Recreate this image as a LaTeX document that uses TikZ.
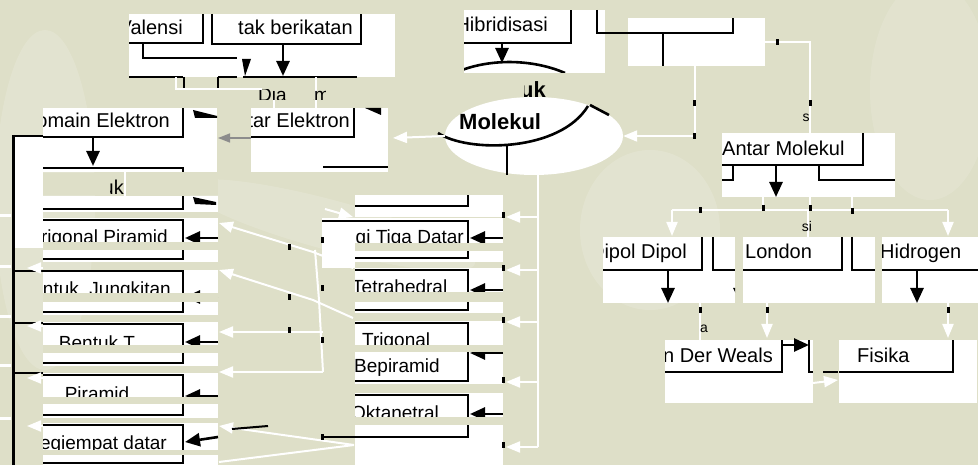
\documentclass[tikz,border=0pt]{standalone}
\usepackage{fontspec}
\setmainfont{Liberation Sans}
\usetikzlibrary{arrows.meta,shapes.geometric}
\definecolor{Khaki}{RGB}{222,223,200}

\begin{document}
\begin{tikzpicture}[x=1pt, y=-1pt,
      every node/.append style={inner sep=0pt, font=\fontsize{20}{22}\selectfont},
      rim/.style={draw=black, line width=2.6pt},
      headed/.style={draw=black, line width=2.6pt, -{Triangle[width=13pt,length=15pt]}},
      ghost/.style={draw=white, line width=2pt, -{Triangle[width=11pt,length=14pt]}},
      wire/.style={draw=white, line width=2pt},
      narrow/.style={font=\fontsize{19}{22}\selectfont}]
    \tikzstyle{slab} = [fill=white]
    \tikzstyle{band} = [fill=Khaki]
    \fill[Khaki] (0,0) rectangle (978,465);
    \useasboundingbox (0,0) rectangle (978,465);
    \fill[white,opacity=.15] (45,200) ellipse [x radius=50pt, y radius=170pt];
    \fill[white,opacity=.15,rotate around={-15:(330,225)}] (330,225) ellipse [x radius=150pt, y radius=25pt];
    \fill[white,opacity=.15] (650,230) ellipse [x radius=70pt, y radius=80pt];
    \fill[white,opacity=.12] (930,90) ellipse [x radius=60pt, y radius=110pt];

    % white boxes
    \fill[slab] (129,14) rectangle (395,77);
    \fill[slab] (43,108) rectangle (217,172);
    \fill[slab] (251,108) rectangle (388,172);
    \fill[slab] (464,10) rectangle (605,73);
    \fill[slab] (628,18) rectangle (765,66);
    \fill[slab] (722,133) rectangle (895,197);
    \fill[slab] (603,237) rectangle (735,303);
    \fill[slab] (743,237) rectangle (875,303);
    \fill[slab] (882,237) rectangle (978,303);
    \fill[slab] (665,340) rectangle (813,403);
    \fill[slab] (839,340) rectangle (977,403);
    \fill[slab] (15,137) rectangle (43,248);
    \foreach \t/\b in {196/212,218/262,270/315,322/366,373/418,423/465}
      \fill[slab] (43,\t) rectangle (218,\b);
    \foreach \t/\b in {195/217,218/262,268/313,321/384,393/465}
      \fill[slab] (355,\t) rectangle (503,\b);
    \fill[slab] (322,218) rectangle (355,268);
    \node (bulat) [ellipse, fill=white, minimum width=178pt, minimum height=78pt] at (534,136) {};

    % texts
    \begin{scope}
      \clip (129,14) rectangle (395,77);
      \node (valensi) [anchor=base east] at (183,35) {Valensi};
      \node (takber) [anchor=base west] at (238,35) {tak berikatan};
    \end{scope}
    \begin{scope}
      \clip (43,108) rectangle (217,172);
      \node (domain) [anchor=base east] at (170,128) {Domain Elektron};
    \end{scope}
    \begin{scope}
      \clip (251,108) rectangle (388,172);
      \node (antarel) [anchor=base east] at (350,128) {Antar Elektron};
    \end{scope}
    \begin{scope}
      \clip (464,10) rectangle (605,73);
      \node (hibrid) [anchor=base east] at (548,32) {Hibridisasi};
    \end{scope}
    \node (molekul) [anchor=base west, font=\fontsize{22}{24}\selectfont\bfseries] at (459,130) {Molekul};
    \begin{scope}
      \clip (524,76) rectangle (548,97);
      \node (bentukatas) [anchor=base east, font=\fontsize{22}{24}\selectfont\bfseries] at (546,98) {Bentuk};
    \end{scope}
    \begin{scope}[every node/.append style={narrow}]
      \clip (43,100) rectangle (218,465);
      \node (trigpir) [anchor=base east] at (168,244) {Trigonal Piramid};
      \node (jungkit) [anchor=base east] at (171,296) {Bentuk\ \ Jungkitan};
      \node (bentukt) [anchor=base] at (97,349) {Bentuk T};
      \node (piramid) [anchor=base] at (97,400) {Piramid};
      \node (segiempat) [anchor=base east] at (167,449) {Segiempat datar};
    \end{scope}
    \begin{scope}[every node/.append style={narrow}]
      \clip (355,180) rectangle (503,465);
      \node (segitiga) [anchor=base east] at (464,244) {Segi Tiga Datar};
      \node (tetra) [anchor=base west] at (352,294) {Tetrahedral};
      \node (trigonal) [anchor=base west] at (362,346) {Trigonal};
      \node (bepir) [anchor=base west] at (354,372) {Bepiramid};
      \node (okta) [anchor=base west] at (351,419) {Oktanetral};
    \end{scope}
    \begin{scope}
      \clip (722,133) rectangle (895,197);
      \node (antarmol) [anchor=base west] at (722,156) {Antar Molekul};
    \end{scope}
    \begin{scope}
      \clip (603,237) rectangle (735,303);
      \node (dipol) [anchor=base east] at (687,259) {Dipol Dipol};
    \end{scope}
    \node (london) [anchor=base west] at (745,259) {London};
    \begin{scope}
      \clip (882,237) rectangle (978,303);
      \node (hidro) [anchor=base west] at (880,259) {Hidrogen};
    \end{scope}
    \begin{scope}
      \clip (665,340) rectangle (813,403);
      \node (vdw) [anchor=base east] at (773,362) {Van Der Weals};
    \end{scope}
    \node (fisika) [anchor=base west] at (857,362) {Fisika};

    % black rims and arrows, top row
    \draw[rim] (129,43) -| (203,14);
    \draw[rim] (212,14) |- (361,44) -- (361,14);
    \draw[rim] (143,44) |- (237,58);
    \draw[rim] (129,77) -- (183,77) (218,77) -- (237,77) (243,77) -- (357,77);
    \draw[black, line width=1.5pt] (184,77) -- (184,90) (218,77) -- (218,90);
    \draw[headed] (283,44) -- (283,76);
    \fill (242,59) -- (251,59) -- (245,76) -- cycle;
    \draw[rim] (43,137) -| (183,108);
    \draw[rim] (43,168) -- (183,168) -- (183,172);
    \draw[headed] (93,137) -- (93,166);
    \fill (193,110) -- (217,116) -- (217,118) -- (195,118) -- cycle;
    \draw[black, line width=1.2pt] (13,136) -- (43,136);
    \draw[black, line width=3pt] (13,135) -- (13,465);
    \draw[rim] (251,137) -| (354,108);
    \draw[rim] (323,167) -- (388,167);
    \fill (365,108) -- (381,108) -- (381,115) -- cycle;
    \draw[black!45, line width=1.5pt, -{Triangle[width=9pt,length=12pt]}] (251,138) -- (218,138);
    \draw[rim] (464,43) -| (571,10);
    \draw[headed] (502,43) -- (502,63);
    \begin{scope}
      \clip (464,10) rectangle (605,73);
      \draw[rim] (462,70) .. controls (495,58) and (535,60) .. (565,73);
    \end{scope}
    \draw[rim] (597,10) |- (628,33);
    \draw[rim] (628,33) -| (733,18);
    \draw[rim] (663,33) -- (663,66);
    \draw[rim] (438,133) .. controls (468,153) and (560,152) .. (588,106);
    \draw[rim] (590,105) -- (609,115);
    \draw[rim] (507,146) -- (507,175);

    % left column
    \draw[rim] (43,209) -| (183,196);
    \fill (193,197) -- (216,202) -- (216,205) -- (195,204) -- cycle;
    \foreach \t/\b/\a in {220/259/238, 271/312/297, 324/363/342, 375/415/396}
      {\draw[rim] (43,\t) -| (183,\b) -- (43,\b);
       \draw[headed] (218,\a) -- (185,\a);}
    \draw[rim] (13,271) -- (43,271);
    \draw[black, line width=1.2pt] (13,323) -- (43,323) (13,373) -- (43,373);
    \draw[rim] (43,425) -| (183,463) -- (43,463);
    \draw[headed] (218,437) -- (185,442);

    % middle column
    \draw[rim] (355,206) -| (468,195);
    \draw[rim] (322,221) -| (468,258) -- (355,258);
    \foreach \t/\b/\a in {270/310/290, 323/381/353, 395/437/414}
      {\draw[rim] (355,\t) -| (468,\b) -- (355,\b);
       \draw[headed] (503,\a) -- (470,\a);}
    \draw[headed] (503,238) -- (470,238);
    \draw[rim] (322,437) -- (355,437);

    % right part
    \draw[rim] (722,165) -| (863,133);
    \draw[rim] (733,165) |- (722,180);
    \draw[rim] (819,165) |- (895,180);
    \draw[headed] (776,165) -- (776,197);
    \draw[rim] (603,270) -| (702,237);
    \draw[rim] (713,237) |- (735,270);
    \draw[headed] (668,270) -- (668,303);
    \begin{scope}
      \clip (700,237) rectangle (735,303);
      \draw[headed] (740,270) -- (740,303);
    \end{scope}
    \draw[rim] (743,270) -| (842,237);
    \draw[rim] (852,237) |- (875,270);
    \draw[rim] (882,270) -- (978,270);
    \draw[headed] (917,270) -- (917,303);
    \draw[rim] (665,372) -| (782,340);
    \draw[headed] (782,345) -- (809,345);
    \draw[rim] (809,340) |- (813,372);
    \draw[rim] (823,372) -- (838,372);
    \draw[rim] (839,372) -| (953,340);

    % cut bands
    \foreach \t/\b in {242/250,293/302,345/353,397/404,450/455}
      \fill[band] (43,\t) rectangle (218,\b);
    \fill[band] (43,173) rectangle (218,195);
    \foreach \t/\b in {243/251,292/302,345/352,417/425}
      \fill[band] (355,\t) rectangle (503,\b);

    % white connectors
    \draw[ghost] (bulat.west) -- (393,138);
    \draw[ghost] (695,66) |- (bulat.east);
    \draw[wire] (765,42) -| (810,133);
    \draw[wire] (274,98) -- (274,108) (316,77) -- (316,108);
    \draw[wire] (125,172) -- (125,197);
    \draw[wire] (538,175) -- (538,447);
    \foreach \y in {217,270,322,382,447}
      {\draw[ghost] (538,\y) -- (506,\y);
       \fill (502,\y-5) rectangle (505,\y+1);}
    \draw[ghost] (353,268) -- (313,252) -- (219,223);
    \draw[ghost] (353,318) -- (313,300) -- (219,270);
    \draw[wire] (315,250) -- (319,300) -- (323,372);
    \draw[ghost] (323,332) -- (219,332);
    \draw[ghost] (323,372) -- (219,372);
    \draw[ghost] (354,445) -- (219,426);
    \draw[wire] (354,445) -- (219,462);
    \draw[ghost] (325,209) -- (353,217);
    \foreach \y in {222,268,326,378,426}
      \draw[ghost] (43,\y) -- (27,\y);
    \foreach \y in {214,265,315,364,417}
      \fill[white] (0,\y) rectangle (11,\y+3);
    \draw[wire] (763,197) -- (763,210) (810,197) -- (810,210) (852,197) -- (852,210);
    \draw[wire] (672,210) -- (948,210);
    \draw[ghost] (672,210) -- (672,236);
    \draw[ghost] (948,210) -- (948,236);
    \draw[wire] (808,210) -- (808,237);
    \draw[wire] (700,303) -- (700,340);
    \draw[ghost] (767,303) -- (767,338);
    \draw[ghost] (948,303) -- (948,338);
    \draw[ghost] (813,383) -- (838,380);

    % dots and label scraps
    \foreach \p in {(289,247),(289,297),(289,330),(322,240),(322,288),(322,340),(322,437),
                    (694,103),(694,136),(777,42),(810,103),(700,210),(763,208),(810,208),
                    (852,211),(700,310),(767,310),(948,310)}
      \fill \p ++(-1.5,-3) rectangle ++(3,6);
    \draw[black, line width=2pt] (232,429) -- (268,426);
    \begin{scope}
      \clip (255,90) rectangle (325,100);
      \node (diagram) [anchor=base west, narrow] at (258,102) {Diagram};
    \end{scope}
    \fill[band] (287,86) rectangle (313,101);
    \draw[wire] (176,77) |- (262,89);
    \begin{scope}
      \clip (110,178) rectangle (124,196);
      \node (bentukbawah) [anchor=base east] at (124,195) {Bentuk};
    \end{scope}
    \node (jenis) [font=\fontsize{14}{14}\selectfont] at (806,118) {s};
    \node (sifat) [font=\fontsize{14}{14}\selectfont] at (807,226) {si};
    \node (gaya) [font=\fontsize{14}{14}\selectfont] at (704,329) {a};
  \end{tikzpicture}
\end{document}
